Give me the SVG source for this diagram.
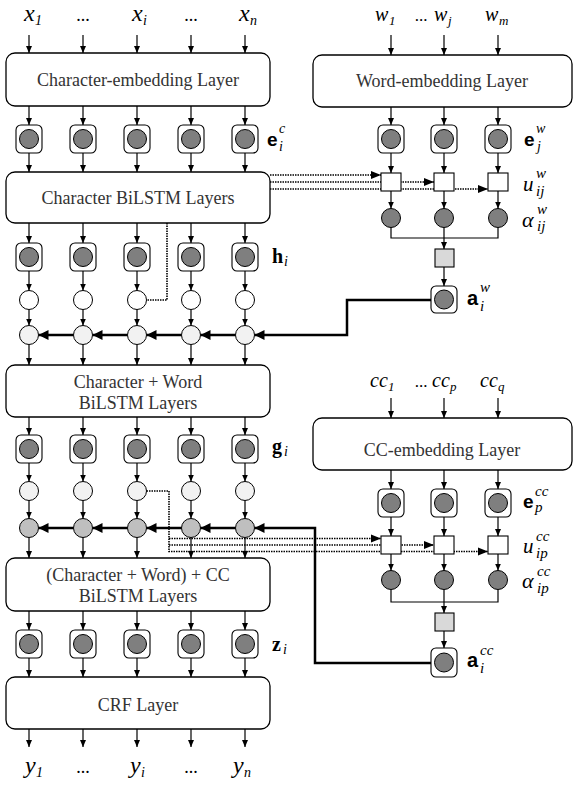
<svg xmlns="http://www.w3.org/2000/svg" width="574" height="785" viewBox="0 0 574 785">
<style>
.bx{fill:#fff;stroke:#000;stroke-width:1.3}
.nb{fill:#fff;stroke:#000;stroke-width:1.1}
.dk{fill:#7f7f7f;stroke:#000;stroke-width:1}
.wc{fill:#fff;stroke:#000;stroke-width:1}
.lc{fill:#f2f2f2;stroke:#000;stroke-width:1}
.gc{fill:#bfbfbf;stroke:#000;stroke-width:1}
.ub{fill:#fff;stroke:#000;stroke-width:1.1}
.sq{fill:#d9d9d9;stroke:#000;stroke-width:1.1}
.t{font-family:"Liberation Serif","Times New Roman",serif;font-size:18px;text-anchor:middle;fill:#333}
.mi{font-family:"Liberation Serif","Times New Roman",serif;font-style:italic;fill:#000}
.mr{font-family:"Liberation Serif","Times New Roman",serif;fill:#000}
.bs{font-family:"Liberation Sans",Arial,sans-serif;font-weight:bold;fill:#000}
.bf{font-family:"Liberation Serif","Times New Roman",serif;font-weight:bold;fill:#000}
.ln{stroke:#000;stroke-width:1.2;fill:none}
.a{marker-end:url(#ah)}
.th{stroke:#000;stroke-width:2.5;fill:none;marker-end:url(#aT)}
.dt{stroke:#000;stroke-width:1.6;stroke-dasharray:1.5 1;fill:none}
</style>
<defs>
<marker id="ah" markerWidth="7" markerHeight="6" refX="7" refY="3" orient="auto" markerUnits="userSpaceOnUse"><path d="M0,0 L7,3 L0,6 z" fill="#000"/></marker>
<marker id="aT" markerWidth="11" markerHeight="10" refX="10" refY="5" orient="auto" markerUnits="userSpaceOnUse"><path d="M0,0 L10,5 L0,10 z" fill="#000"/></marker>
</defs>
<rect width="574" height="785" fill="#fff"/>

<g id="connectors">
<path class="dt" d="M270,175 H381"/><path class="dt" d="M270,182 H434"/><path class="dt" d="M270,189 H488"/>
<g fill="#000"><path d="M371,171 L381,175 L371,179z"/><path d="M424,178 L434,182 L424,186z"/><path d="M478,185 L488,189 L478,193z"/></g>
<path class="dt" d="M167,223 V300 H146.5"/>
<path class="dt" d="M146.5,491 H169 V551.5 H488"/><path class="dt" d="M169,538.5 H381"/><path class="dt" d="M169,545 H434"/>
<g fill="#000"><path d="M371,534.5 L381,538.5 L371,542.5z"/><path d="M424,541 L434,545 L424,549z"/><path d="M478,547.5 L488,551.5 L478,555.5z"/></g>

<g class="ln a">
<path class="a" d="M29,35V53"/><path class="a" d="M83,35V53"/><path class="a" d="M137,35V53"/><path class="a" d="M191,35V53"/><path class="a" d="M245,35V53"/>
<path class="a" d="M29,106V125"/><path class="a" d="M83,106V125"/><path class="a" d="M137,106V125"/><path class="a" d="M191,106V125"/><path class="a" d="M245,106V125"/>
<path class="a" d="M29,153V172"/><path class="a" d="M83,153V172"/><path class="a" d="M137,153V172"/><path class="a" d="M191,153V172"/><path class="a" d="M245,153V172"/>
<path class="a" d="M29,223V243"/><path class="a" d="M83,223V243"/><path class="a" d="M137,223V243"/><path class="a" d="M191,223V243"/><path class="a" d="M245,223V243"/>
<path class="a" d="M29,271V290.5"/><path class="a" d="M83,271V290.5"/><path class="a" d="M137,271V290.5"/><path class="a" d="M191,271V290.5"/><path class="a" d="M245,271V290.5"/>
<path class="a" d="M29,309.5V325.5"/><path class="a" d="M83,309.5V325.5"/><path class="a" d="M137,309.5V325.5"/><path class="a" d="M191,309.5V325.5"/><path class="a" d="M245,309.5V325.5"/>
<path class="a" d="M29,344.5V365"/><path class="a" d="M83,344.5V365"/><path class="a" d="M137,344.5V365"/><path class="a" d="M191,344.5V365"/><path class="a" d="M245,344.5V365"/>
<path class="a" d="M29,417V435"/><path class="a" d="M83,417V435"/><path class="a" d="M137,417V435"/><path class="a" d="M191,417V435"/><path class="a" d="M245,417V435"/>
<path class="a" d="M29,463V481.5"/><path class="a" d="M83,463V481.5"/><path class="a" d="M137,463V481.5"/><path class="a" d="M191,463V481.5"/><path class="a" d="M245,463V481.5"/>
<path class="a" d="M29,500.5V518.5"/><path class="a" d="M83,500.5V518.5"/><path class="a" d="M137,500.5V518.5"/><path class="a" d="M191,500.5V518.5"/><path class="a" d="M245,500.5V518.5"/>
<path class="a" d="M29,537.5V558"/><path class="a" d="M83,537.5V558"/><path class="a" d="M137,537.5V558"/><path class="a" d="M191,537.5V558"/><path class="a" d="M245,537.5V558"/>
<path class="a" d="M29,611V630"/><path class="a" d="M83,611V630"/><path class="a" d="M137,611V630"/><path class="a" d="M191,611V630"/><path class="a" d="M245,611V630"/>
<path class="a" d="M29,658V677"/><path class="a" d="M83,658V677"/><path class="a" d="M137,658V677"/><path class="a" d="M191,658V677"/><path class="a" d="M245,658V677"/>
<path class="a" d="M29,729V747"/><path class="a" d="M83,729V747"/><path class="a" d="M137,729V747"/><path class="a" d="M191,729V747"/><path class="a" d="M245,729V747"/>
<path class="a" d="M391,35V55"/><path class="a" d="M444,35V55"/><path class="a" d="M498,35V55"/>
<path class="a" d="M391,107V125"/><path class="a" d="M444,107V125"/><path class="a" d="M498,107V125"/>
<path class="a" d="M391,153V173"/><path class="a" d="M444,153V173"/><path class="a" d="M498,153V173"/>
<path class="a" d="M391,191V208.5"/><path class="a" d="M444,191V208.5"/><path class="a" d="M498,191V208.5"/>
<path class="a" d="M444,238V249"/><path class="a" d="M444,267V286"/>
<path class="a" d="M391,398V418"/><path class="a" d="M444,398V418"/><path class="a" d="M498,398V418"/>
<path class="a" d="M391,470V489"/><path class="a" d="M444,470V489"/><path class="a" d="M498,470V489"/>
<path class="a" d="M391,517V536"/><path class="a" d="M444,517V536"/><path class="a" d="M498,517V536"/>
<path class="a" d="M391,554V570.5"/><path class="a" d="M444,554V570.5"/><path class="a" d="M498,554V570.5"/>
<path class="a" d="M444,602V613"/><path class="a" d="M444,631V648"/>
</g>
<path class="ln" d="M391,227.5V238H498V227.5M444,227.5V238"/>
<path class="ln" d="M391,589.5V602H498V589.5M444,589.5V602"/>

<path class="th" d="M431,300H347V335H254.5"/>
<path class="th" d="M235.5,335H200.5"/><path class="th" d="M181.5,335H146.5"/><path class="th" d="M127.5,335H92.5"/><path class="th" d="M73.5,335H38.5"/>
<path class="th" d="M431,663H315V528H254.5"/>
<path class="th" d="M235.5,528H200.5"/><path class="th" d="M181.5,528H146.5"/><path class="th" d="M127.5,528H92.5"/><path class="th" d="M73.5,528H38.5"/>
</g>

<g id="inputs-x">
<text class="mi" x="24" y="21" font-size="24">x</text><text class="mi" x="35" y="25" font-size="14">1</text>
<text class="mr" x="83" y="21" font-size="18" text-anchor="middle">...</text>
<text class="mi" x="132" y="21" font-size="24">x</text><text class="mi" x="143" y="25" font-size="14">i</text>
<text class="mr" x="191" y="21" font-size="18" text-anchor="middle">...</text>
<text class="mi" x="239" y="21" font-size="24">x</text><text class="mi" x="250" y="25" font-size="14">n</text>
</g>
<g id="inputs-w">
<text class="mi" x="375" y="21" font-size="20">w</text><text class="mi" x="389" y="25" font-size="13">1</text>
<text class="mr" x="421" y="21" font-size="17" text-anchor="middle">...</text>
<text class="mi" x="434" y="21" font-size="20">w</text><text class="mi" x="448" y="25" font-size="13">j</text>
<text class="mi" x="485" y="21" font-size="20">w</text><text class="mi" x="499" y="25" font-size="13">m</text>
</g>
<g id="inputs-cc">
<text class="mi" x="370" y="387" font-size="20">cc</text><text class="mi" x="388" y="391" font-size="13">1</text>
<text class="mr" x="421" y="387" font-size="17" text-anchor="middle">...</text>
<text class="mi" x="432" y="387" font-size="20">cc</text><text class="mi" x="450" y="391" font-size="13">p</text>
<text class="mi" x="480" y="387" font-size="20">cc</text><text class="mi" x="498" y="391" font-size="13">q</text>
</g>

<g id="char-embedding"><rect class="bx" x="6" y="53" width="264" height="53" rx="9"/><text class="t" x="138" y="86">Character-embedding Layer</text></g>
<g id="char-bilstm"><rect class="bx" x="6" y="172" width="264" height="51" rx="9"/><text class="t" x="138" y="204">Character BiLSTM Layers</text></g>
<g id="charword-bilstm"><rect class="bx" x="6" y="365" width="264" height="52" rx="9"/><text class="t" x="138" y="388">Character + Word</text><text class="t" x="138" y="409">BiLSTM Layers</text></g>
<g id="charwordcc-bilstm"><rect class="bx" x="6" y="558" width="264" height="53" rx="9"/><text class="t" x="138" y="581">(Character + Word) + CC</text><text class="t" x="138" y="602">BiLSTM Layers</text></g>
<g id="crf"><rect class="bx" x="6" y="677" width="264" height="52" rx="9"/><text class="t" x="138" y="711">CRF Layer</text></g>
<g id="word-embedding"><rect class="bx" x="313" y="55" width="259" height="52" rx="9"/><text class="t" x="442" y="87">Word-embedding Layer</text></g>
<g id="cc-embedding"><rect class="bx" x="313" y="418" width="259" height="52" rx="9"/><text class="t" x="442" y="456">CC-embedding Layer</text></g>

<g id="ec">
<rect class="nb" x="16" y="125" width="26" height="28" rx="5"/><circle class="dk" cx="29" cy="139" r="9.5"/>
<rect class="nb" x="70" y="125" width="26" height="28" rx="5"/><circle class="dk" cx="83" cy="139" r="9.5"/>
<rect class="nb" x="124" y="125" width="26" height="28" rx="5"/><circle class="dk" cx="137" cy="139" r="9.5"/>
<rect class="nb" x="178" y="125" width="26" height="28" rx="5"/><circle class="dk" cx="191" cy="139" r="9.5"/>
<rect class="nb" x="232" y="125" width="26" height="28" rx="5"/><circle class="dk" cx="245" cy="139" r="9.5"/>
<text class="bs" x="267" y="146" font-size="19">e</text><text class="mi" x="279" y="133" font-size="14">c</text><text class="mi" x="279" y="151" font-size="14">i</text>
</g>
<g id="h">
<rect class="nb" x="16" y="243" width="26" height="28" rx="5"/><circle class="dk" cx="29" cy="257" r="9.5"/>
<rect class="nb" x="70" y="243" width="26" height="28" rx="5"/><circle class="dk" cx="83" cy="257" r="9.5"/>
<rect class="nb" x="124" y="243" width="26" height="28" rx="5"/><circle class="dk" cx="137" cy="257" r="9.5"/>
<rect class="nb" x="178" y="243" width="26" height="28" rx="5"/><circle class="dk" cx="191" cy="257" r="9.5"/>
<rect class="nb" x="232" y="243" width="26" height="28" rx="5"/><circle class="dk" cx="245" cy="257" r="9.5"/>
<text class="bf" x="272" y="263" font-size="20">h</text><text class="mi" x="284" y="266" font-size="14">i</text>
</g>
<g id="h-copy">
<circle class="wc" cx="29" cy="300" r="9.5"/><circle class="wc" cx="83" cy="300" r="9.5"/><circle class="wc" cx="137" cy="300" r="9.5"/><circle class="wc" cx="191" cy="300" r="9.5"/><circle class="wc" cx="245" cy="300" r="9.5"/>
</g>
<g id="hw-concat">
<circle class="lc" cx="29" cy="335" r="9.5"/><circle class="lc" cx="83" cy="335" r="9.5"/><circle class="lc" cx="137" cy="335" r="9.5"/><circle class="lc" cx="191" cy="335" r="9.5"/><circle class="lc" cx="245" cy="335" r="9.5"/>
</g>
<g id="g">
<rect class="nb" x="16" y="435" width="26" height="28" rx="5"/><circle class="dk" cx="29" cy="449" r="9.5"/>
<rect class="nb" x="70" y="435" width="26" height="28" rx="5"/><circle class="dk" cx="83" cy="449" r="9.5"/>
<rect class="nb" x="124" y="435" width="26" height="28" rx="5"/><circle class="dk" cx="137" cy="449" r="9.5"/>
<rect class="nb" x="178" y="435" width="26" height="28" rx="5"/><circle class="dk" cx="191" cy="449" r="9.5"/>
<rect class="nb" x="232" y="435" width="26" height="28" rx="5"/><circle class="dk" cx="245" cy="449" r="9.5"/>
<text class="bf" x="272" y="453" font-size="20">g</text><text class="mi" x="284" y="456" font-size="14">i</text>
</g>
<g id="g-copy">
<circle class="lc" cx="29" cy="491" r="9.5"/><circle class="lc" cx="83" cy="491" r="9.5"/><circle class="lc" cx="137" cy="491" r="9.5"/><circle class="lc" cx="191" cy="491" r="9.5"/><circle class="lc" cx="245" cy="491" r="9.5"/>
</g>
<g id="gcc-concat">
<circle class="gc" cx="29" cy="528" r="9.5"/><circle class="gc" cx="83" cy="528" r="9.5"/><circle class="gc" cx="137" cy="528" r="9.5"/><circle class="gc" cx="191" cy="528" r="9.5"/><circle class="gc" cx="245" cy="528" r="9.5"/>
</g>
<g id="z">
<rect class="nb" x="16" y="630" width="26" height="28" rx="5"/><circle class="dk" cx="29" cy="644" r="9.5"/>
<rect class="nb" x="70" y="630" width="26" height="28" rx="5"/><circle class="dk" cx="83" cy="644" r="9.5"/>
<rect class="nb" x="124" y="630" width="26" height="28" rx="5"/><circle class="dk" cx="137" cy="644" r="9.5"/>
<rect class="nb" x="178" y="630" width="26" height="28" rx="5"/><circle class="dk" cx="191" cy="644" r="9.5"/>
<rect class="nb" x="232" y="630" width="26" height="28" rx="5"/><circle class="dk" cx="245" cy="644" r="9.5"/>
<text class="bf" x="272" y="651" font-size="20">z</text><text class="mi" x="283" y="654" font-size="14">i</text>
</g>

<g id="ew">
<rect class="nb" x="378" y="125" width="26" height="28" rx="5"/><circle class="dk" cx="391" cy="139" r="9.5"/>
<rect class="nb" x="431" y="125" width="26" height="28" rx="5"/><circle class="dk" cx="444" cy="139" r="9.5"/>
<rect class="nb" x="485" y="125" width="26" height="28" rx="5"/><circle class="dk" cx="498" cy="139" r="9.5"/>
<text class="bs" x="524" y="146" font-size="19">e</text><text class="mi" x="536" y="133" font-size="14">w</text><text class="mi" x="537" y="151" font-size="14">j</text>
</g>
<g id="uw">
<rect class="ub" x="381" y="173" width="20" height="18"/><rect class="ub" x="434" y="173" width="20" height="18"/><rect class="ub" x="488" y="173" width="20" height="18"/>
<text class="mi" x="523" y="191" font-size="21">u</text><text class="mi" x="536" y="178" font-size="15">w</text><text class="mi" x="536" y="196" font-size="15">ij</text>
</g>
<g id="alphaw">
<circle class="dk" cx="391" cy="218" r="9.5"/><circle class="dk" cx="444" cy="218" r="9.5"/><circle class="dk" cx="498" cy="218" r="9.5"/>
<text class="mi" x="522" y="227" font-size="22">α</text><text class="mi" x="537" y="214" font-size="15">w</text><text class="mi" x="537" y="231" font-size="15">ij</text>
</g>
<g id="sumw"><rect class="sq" x="435" y="249" width="19" height="18"/></g>
<g id="aw">
<rect class="nb" x="431" y="286" width="26" height="27" rx="5"/><circle class="dk" cx="444" cy="299.5" r="9.5"/>
<text class="bs" x="467" y="305" font-size="20">a</text><text class="mi" x="480" y="292" font-size="15">w</text><text class="mi" x="480" y="311" font-size="15">i</text>
</g>

<g id="ecc">
<rect class="nb" x="378" y="489" width="26" height="28" rx="5"/><circle class="dk" cx="391" cy="503" r="9.5"/>
<rect class="nb" x="431" y="489" width="26" height="28" rx="5"/><circle class="dk" cx="444" cy="503" r="9.5"/>
<rect class="nb" x="485" y="489" width="26" height="28" rx="5"/><circle class="dk" cx="498" cy="503" r="9.5"/>
<text class="bs" x="523" y="508" font-size="19">e</text><text class="mi" x="535" y="496" font-size="15">cc</text><text class="mi" x="535" y="512" font-size="15">p</text>
</g>
<g id="ucc">
<rect class="ub" x="381" y="536" width="20" height="18"/><rect class="ub" x="434" y="536" width="20" height="18"/><rect class="ub" x="488" y="536" width="20" height="18"/>
<text class="mi" x="523" y="553" font-size="21">u</text><text class="mi" x="536" y="541" font-size="15">cc</text><text class="mi" x="536" y="558" font-size="15">ip</text>
</g>
<g id="alphacc">
<circle class="dk" cx="391" cy="580" r="9.5"/><circle class="dk" cx="444" cy="580" r="9.5"/><circle class="dk" cx="498" cy="580" r="9.5"/>
<text class="mi" x="522" y="588" font-size="22">α</text><text class="mi" x="537" y="576" font-size="15">cc</text><text class="mi" x="537" y="593" font-size="15">ip</text>
</g>
<g id="sumcc"><rect class="sq" x="435" y="613" width="19" height="18"/></g>
<g id="acc">
<rect class="nb" x="431" y="648" width="26" height="29" rx="5"/><circle class="dk" cx="444" cy="662.5" r="9.5"/>
<text class="bs" x="467" y="667" font-size="20">a</text><text class="mi" x="480" y="655" font-size="15">cc</text><text class="mi" x="480" y="673" font-size="15">i</text>
</g>

<g id="outputs-y">
<text class="mi" x="25" y="773" font-size="24">y</text><text class="mi" x="36" y="777" font-size="14">1</text>
<text class="mr" x="83" y="773" font-size="18" text-anchor="middle">...</text>
<text class="mi" x="130" y="773" font-size="24">y</text><text class="mi" x="141" y="777" font-size="14">i</text>
<text class="mr" x="191" y="773" font-size="18" text-anchor="middle">...</text>
<text class="mi" x="233" y="773" font-size="24">y</text><text class="mi" x="244" y="777" font-size="14">n</text>
</g>
</svg>
